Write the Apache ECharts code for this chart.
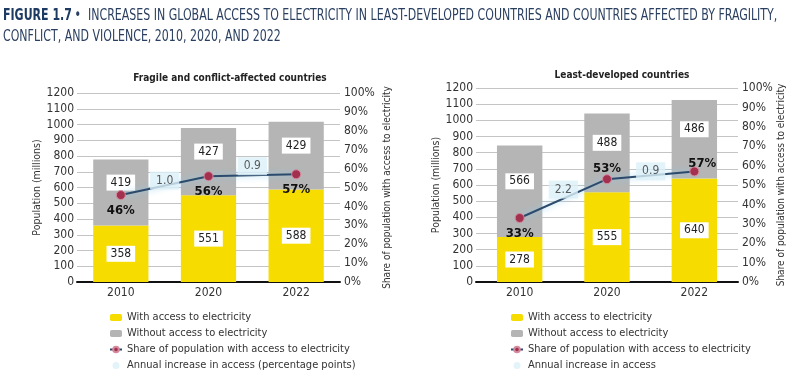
<!DOCTYPE html>
<html><head><meta charset="utf-8">
<script src="https://cdn.jsdelivr.net/npm/echarts@6/dist/echarts.min.js"></script>
<style>html,body{margin:0;padding:0;background:#fff}#c{width:800px;height:378px}</style>
</head><body><div id="c"></div>
<script>
const categories = ['2010', '2020', '2022'];
const fcsWith = [358, 551, 588];
const fcsWithout = [419, 427, 429];
const fcsShare = [46, 56, 57];
const fcsIncrease = [1.0, 0.9];
const ldcWith = [278, 555, 640];
const ldcWithout = [566, 488, 486];
const ldcShare = [33, 53, 57];
const ldcIncrease = [2.2, 0.9];

const FONT = "'DejaVu Sans Condensed',Roboto,sans-serif";
const YEL = '#f7dc00', GRY = '#b5b5b5', LINE = '#2b4a6c', DOT = '#a3304f', BOX = '#dcf0f9';
const NAMES = ['With access to electricity', 'Without access to electricity',
  'Share of population with access to electricity', 'Annual increase in access (percentage points)'];

function panel(i, withArr, withoutArr, share, incr, nameGaps, legendLeft, incrOffsets, shareLblPos) {
  const axisLbl = { fontFamily: FONT, fontSize: 12, color: '#333' };
  const xAxes = [
    { gridIndex: i, type: 'category', data: categories,
      axisLine: { lineStyle: { color: '#111', width: 2 } }, axisTick: { show: false },
      axisLabel: Object.assign({ margin: 5 }, axisLbl) },
    { gridIndex: i, type: 'value', min: 0, max: 3, show: false }
  ];
  const yAxes = [
    { gridIndex: i, type: 'value', min: 0, max: 1200, interval: 100,
      name: 'Population (millions)', nameLocation: 'middle', nameGap: nameGaps[0],
      nameTextStyle: { fontFamily: FONT, fontSize: 10.5, color: '#333' },
      axisLine: { show: false }, axisTick: { show: false },
      axisLabel: Object.assign({ margin: 3, formatter: v => String(v) }, axisLbl),
      splitLine: { lineStyle: { color: '#c4c4c4', width: 1 } } },
    { gridIndex: i, type: 'value', min: 0, max: 100, interval: 10, position: 'right',
      name: 'Share of population with access to electricity', nameLocation: 'middle', nameGap: nameGaps[1],
      nameRotate: 90,
      nameTextStyle: { fontFamily: FONT, fontSize: 10, color: '#333' },
      axisLine: { show: false }, axisTick: { show: false },
      axisLabel: Object.assign({ margin: 4, formatter: '{value}%' }, axisLbl),
      splitLine: { show: false } }
  ];
  const xi = i * 2, yi = i * 2;
  const barLabel = { show: true, position: 'inside', backgroundColor: '#fff', padding: [2, 4],
    color: '#222', fontFamily: FONT, fontSize: 12 };
  const series = [
    { name: NAMES[0], type: 'bar', stack: 's' + i, xAxisIndex: xi, yAxisIndex: yi, barWidth: i === 0 ? '63%' : '52%',
      itemStyle: { color: YEL }, label: barLabel, data: withArr },
    { name: NAMES[1], type: 'bar', stack: 's' + i, xAxisIndex: xi, yAxisIndex: yi,
      itemStyle: { color: GRY }, label: Object.assign({ offset: [0, -10] }, barLabel), data: withoutArr },
    { name: NAMES[2], type: 'line', xAxisIndex: xi, yAxisIndex: yi + 1, symbol: 'circle', symbolSize: 9,
      lineStyle: { color: LINE, width: 2, shadowColor: 'rgba(140,205,235,0.9)', shadowBlur: 6 },
      itemStyle: { color: DOT, borderColor: '#d48a9c', borderWidth: 1 },
      label: { show: true, position: 'bottom', distance: 4, formatter: '{c}%', fontFamily: FONT,
        fontWeight: 'bold', fontSize: 13, color: '#111' },
      data: share.map((v, k) => ({ value: v, label: shareLblPos[k] })),
      z: 5 },
    { name: NAMES[3], type: 'scatter', xAxisIndex: xi + 1, yAxisIndex: yi + 1, symbolSize: 0,
      itemStyle: { color: BOX },
      label: { show: true, position: 'top', distance: 4, backgroundColor: BOX, padding: [3, 6],
        color: '#333', fontFamily: FONT, fontSize: 12, formatter: p => p.data.value[2].toFixed(1) },
      data: incr.map((v, k) => ({ value: [k + 1, (share[k] + share[k + 1]) / 2, v],
        label: { offset: incrOffsets[k] } })), z: 6 }
  ];
  const legend = {
    orient: 'vertical', left: legendLeft, top: 307, itemGap: 5, itemWidth: 12, itemHeight: 7,
    textStyle: { fontFamily: FONT, fontSize: 11, color: '#333' },
    data: NAMES,
    formatter: n => (i === 1 && n === NAMES[3]) ? 'Annual increase in access' : n
  };
  return { xAxes, yAxes, series, legend };
}

const A = panel(0, fcsWith, fcsWithout, fcsShare, fcsIncrease, [26, 42], 104,
  [[0, 8], [0, 4]], [{}, {}, {}]);
const B = panel(1, ldcWith, ldcWithout, ldcShare, ldcIncrease, [34, 37], 505,
  [[0, 4], [0, 9]], [{}, { position: 'top', distance: 1, offset: [0, 2] }, { position: 'top', distance: 1, offset: [8, 5] }]);

const chart = echarts.init(document.getElementById('c'), null, { renderer: 'canvas' });
chart.setOption({
  animation: false,
  graphic: [
    { type: 'text', x: 3, y: 5, scaleX: 0.765, style: {
        text: '{b|FIGURE 1.7} {n|•  INCREASES IN GLOBAL ACCESS TO ELECTRICITY IN LEAST-DEVELOPED COUNTRIES AND COUNTRIES AFFECTED BY FRAGILITY,}\n{n|CONFLICT, AND VIOLENCE, 2010, 2020, AND 2022}',
        rich: {
          b: { fontFamily: FONT, fontWeight: 'bold', fontSize: 16, fill: '#1d3a63', lineHeight: 21 },
          n: { fontFamily: FONT, fontSize: 16, fill: '#2a3f60', lineHeight: 21 } } } }
  ],
  title: [
    { left: 225, top: 68, textAlign: 'center', text: 'Fragile and conflict-affected countries',
      textStyle: { fontFamily: FONT, fontWeight: 'bold', fontSize: 10, color: '#222' } },
    { left: 617, top: 65, textAlign: 'center', text: 'Least-developed countries',
      textStyle: { fontFamily: FONT, fontWeight: 'bold', fontSize: 10, color: '#222' } }
  ],
  grid: [
    { left: 77, right: 460, top: 93, bottom: 96 },
    { left: 476, right: 62, top: 88, bottom: 96 }
  ],
  xAxis: A.xAxes.concat(B.xAxes),
  yAxis: A.yAxes.concat(B.yAxes),
  legend: [A.legend, B.legend],
  series: A.series.concat(B.series)
});
</script></body></html>
